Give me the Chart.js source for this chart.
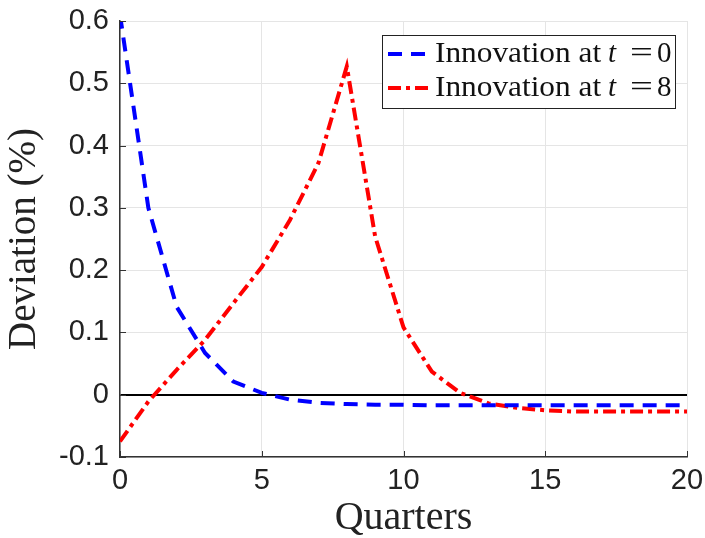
<!DOCTYPE html>
<html>
<head>
<meta charset="utf-8">
<script src="https://cdn.jsdelivr.net/npm/chart.js@4.4.1/dist/chart.umd.min.js"></script>
<style>
  html, body { margin: 0; padding: 0; background: #fff; }
  #wrap { width: 705px; height: 538px; }
</style>
</head>
<body>
<div id="wrap"><canvas id="chart" width="705" height="538"></canvas></div>
<script>
// Datos
const quarters = [0, 1, 2, 3, 4, 5, 6, 7, 8, 9, 10, 11, 12, 13, 14, 15, 16, 17, 18, 19, 20];
const innovT0 = [0.61, 0.30, 0.141, 0.067, 0.021, 0.003, -0.008, -0.013, -0.015, -0.016, -0.016, -0.017, -0.017, -0.017, -0.017, -0.017, -0.017, -0.017, -0.017, -0.017, -0.017];
const innovT8 = [-0.075, -0.011, 0.040, 0.088, 0.147, 0.205, 0.281, 0.372, 0.527, 0.254, 0.108, 0.037, 0.003, -0.014, -0.021, -0.025, -0.027, -0.027, -0.027, -0.027, -0.027];
const xTicks = [0, 5, 10, 15, 20];
const yTicks = [-0.1, 0, 0.1, 0.2, 0.3, 0.4, 0.5, 0.6];
const labels = ['Innovation at', 'Innovation at'];
const labelVals = ['0', '8'];

const toPts = arr => quarters.map((q, i) => ({ x: q, y: arr[i] }));
const SERIF = '"Liberation Serif", "DejaVu Serif", serif';

// Leyenda dentro del área del gráfico y marcas de eje hacia dentro (estilo MATLAB)
const boxLegend = {
  id: 'boxLegend',
  afterDraw(chart) {
    const ctx = chart.ctx;
    const { x, y } = chart.scales;
    const area = chart.chartArea;
    ctx.save();
    ctx.strokeStyle = '#333';
    ctx.lineWidth = 1;
    xTicks.forEach(v => {
      const px = Math.round(x.getPixelForValue(v)) + 0.5;
      ctx.beginPath(); ctx.moveTo(px, area.bottom); ctx.lineTo(px, area.bottom - 6); ctx.stroke();
    });
    yTicks.forEach(v => {
      const py = Math.round(y.getPixelForValue(v)) + 0.5;
      ctx.beginPath(); ctx.moveTo(area.left, py); ctx.lineTo(area.left + 6, py); ctx.stroke();
    });

    const x0 = 382, y0 = 35, w = 293, h = 73;
    ctx.fillStyle = '#fff';
    ctx.fillRect(x0, y0, w, h);
    ctx.strokeStyle = '#222';
    ctx.lineWidth = 1;
    ctx.strokeRect(x0 + 0.5, y0 + 0.5, w, h);
    chart.data.datasets.forEach((ds, i) => {
      const yy = y0 + 19 + i * 34;
      ctx.strokeStyle = ds.borderColor;
      ctx.lineWidth = ds.borderWidth;
      ctx.setLineDash(ds.borderDash);
      ctx.beginPath();
      ctx.moveTo(x0 + 6, yy);
      ctx.lineTo(x0 + 49, yy);
      ctx.stroke();
      ctx.setLineDash([]);
      ctx.fillStyle = '#111';
      ctx.textBaseline = 'middle';
      ctx.font = '29px ' + SERIF;
      ctx.save();
      ctx.translate(x0 + 53, yy);
      ctx.scale(1.08, 1);
      ctx.fillText(labels[i], 0, 0);
      ctx.restore();
      ctx.font = 'italic 29px ' + SERIF;
      ctx.fillText('t', x0 + 226, yy);
      ctx.font = '29px ' + SERIF;
      ctx.save();
      ctx.translate(x0 + 248, yy);
      ctx.scale(1.4, 1);
      ctx.fillText('=', 0, 0);
      ctx.restore();
      ctx.fillText(labelVals[i], x0 + 275, yy);
    });
    ctx.restore();
  }
};

new Chart(document.getElementById('chart').getContext('2d'), {
  type: 'line',
  data: {
    datasets: [{
      label: 'Innovation at t = 0',
      data: toPts(innovT0),
      borderColor: '#0000ff',
      borderWidth: 4,
      borderDash: [14, 9],
      pointRadius: 0,
      fill: false,
      tension: 0
    }, {
      label: 'Innovation at t = 8',
      data: toPts(innovT8),
      borderColor: '#ff0000',
      borderWidth: 4,
      borderDash: [13, 5, 4, 5],
      pointRadius: 0,
      fill: false,
      tension: 0
    }]
  },
  options: {
    responsive: false,
    animation: false,
    layout: { padding: { top: 21, right: 18, left: 0, bottom: 0 } },
    plugins: { legend: { display: false }, tooltip: { enabled: false } },
    scales: {
      x: {
        type: 'linear',
        min: 0, max: 20,
        afterFit: s => { s.height = 81; s.paddingLeft = 0; s.paddingRight = 0; },
        afterBuildTicks: s => { s.ticks = xTicks.map(v => ({ value: v })); },
        grid: { color: '#e5e5e5', lineWidth: 1, drawTicks: false },
        border: { color: '#333', width: 1.5 },
        ticks: {
          padding: 7,
          color: '#222',
          font: { family: '"Liberation Sans", Arial, sans-serif', size: 29 },
          callback: v => String(v)
        },
        title: {
          display: true,
          text: 'Quarters',
          color: '#222',
          padding: { top: 0, bottom: 0 },
          font: { family: SERIF, size: 40, lineHeight: 1.0 }
        }
      },
      y: {
        min: -0.1, max: 0.6,
        afterFit: s => { s.width = 120; s.paddingTop = 0; s.paddingBottom = 0; },
        afterBuildTicks: s => { s.ticks = yTicks.map(v => ({ value: v })); },
        grid: {
          color: c => (Math.abs(c.tick.value) < 1e-9 ? '#000' : '#e5e5e5'),
          lineWidth: c => (Math.abs(c.tick.value) < 1e-9 ? 2 : 1),
          drawTicks: false
        },
        border: { color: '#333', width: 1.5 },
        ticks: {
          padding: 11,
          color: '#222',
          font: { family: '"Liberation Sans", Arial, sans-serif', size: 29 },
          callback: v => (Math.abs(v) < 1e-9 ? '0' : String(Math.round(v * 10) / 10))
        },
        title: {
          display: true,
          text: 'Deviation (%)',
          color: '#222',
          padding: { top: 3, bottom: 0 },
          font: { family: SERIF, size: 39, lineHeight: 1.1 }
        }
      }
    }
  },
  plugins: [boxLegend]
});
</script>
</body>
</html>
